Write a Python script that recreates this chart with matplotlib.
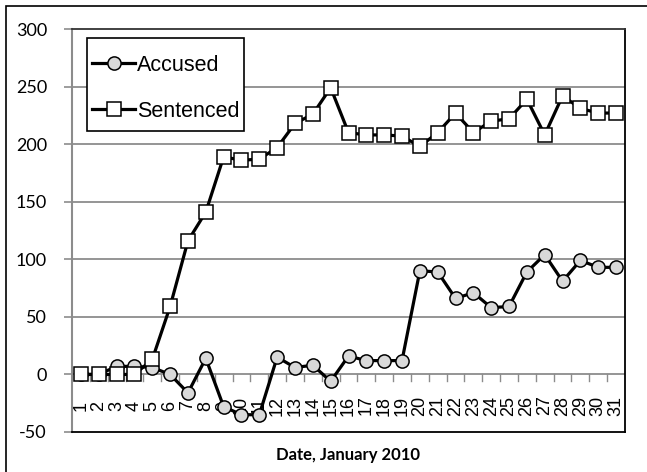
import matplotlib
matplotlib.use("Agg")
import matplotlib.pyplot as plt
from matplotlib.patches import Rectangle

days = list(range(1, 32))
day_labels = [str(d) for d in days]
accused = [0, 0, 7, 7, 6, 0, -16, 14, -28, -35, -35, 15, 6, 8, -6, 16,
           12, 12, 12, 90, 89, 66, 71, 58, 59, 89, 104, 81, 99, 93, 93]
sentenced = [0, 0, 0, 0, 13, 59, 116, 141, 189, 186, 187, 197, 218, 226, 249, 210,
             208, 208, 207, 198, 210, 227, 210, 220, 222, 239, 208, 242, 231, 227, 227]
yticks = [-50, 0, 50, 100, 150, 200, 250, 300]
xlabel = "Date, January 2010"
series_names = ["Accused", "Sentenced"]

W, H = 647, 472
fig = plt.figure(figsize=(W / 100, H / 100), dpi=100)
fig.patch.set_facecolor("white")

# outer chart border
fig.add_artist(Rectangle((6 / W, -0.05), 1.2, 1 - 6 / H + 0.05, transform=fig.transFigure,
                         fill=False, edgecolor="black", linewidth=1.2))

ax = fig.add_axes([72 / W, 1 - 432 / H, (625 - 72) / W, (432 - 29) / H])
ax.set_xlim(0.5, 31.5)
ax.set_ylim(-50, 300)

grid_c = "#8c8c8c"
for y in [50, 100, 150, 200, 250]:
    ax.axhline(y, color=grid_c, linewidth=1.3, zorder=1)
# zero axis line with ticks between categories
ax.axhline(0, color=grid_c, linewidth=1.3, zorder=1)
for b in range(1, 31):
    ax.plot([b + 0.5, b + 0.5], [0, -6], color=grid_c, linewidth=1.0, zorder=1)

l1, = ax.plot(days, accused, color="black", linewidth=2.3, marker="o", markersize=9.5,
              markerfacecolor="#d9d9d9", markeredgecolor="black", markeredgewidth=1.1,
              zorder=3, label=series_names[0])
l2, = ax.plot(days, sentenced, color="black", linewidth=2.3, marker="s", markersize=10.5,
              markerfacecolor="white", markeredgecolor="black", markeredgewidth=1.1,
              zorder=4, label=series_names[1])

ax.set_yticks(yticks)
ax.set_yticklabels([str(v) for v in yticks], fontfamily="Lato", fontsize=13)
ax.tick_params(axis="y", direction="out", length=6, color=grid_c, width=1.2, pad=12)
ax.set_xticks([])

for d, lab in zip(days, day_labels):
    ax.text(d, -27, lab, rotation=90, ha="center", va="center",
            fontfamily="Liberation Sans", fontsize=13, zorder=2)

for s in ["top", "right", "bottom"]:
    ax.spines[s].set_color("black")
    ax.spines[s].set_linewidth(1.3)
ax.spines["top"].set_color("#333333")
ax.spines["left"].set_color(grid_c)
ax.spines["left"].set_linewidth(1.5)

fig.text((72 + 625) / 2 / W, 1 - 455 / H, xlabel, ha="center", va="center",
         fontfamily="Lato", fontweight="bold", fontsize=12)

# legend frame drawn separately (Excel-like padding)
fig.add_artist(Rectangle((87 / W, 1 - 131 / H), (244 - 87) / W, (131 - 38) / H,
                         transform=fig.transFigure, facecolor="white", edgecolor="black",
                         linewidth=1.2, zorder=5))
leg = fig.legend(handles=[l1, l2], loc="upper left", bbox_to_anchor=(92 / W, 1 - 55 / H),
                 prop={"family": "Liberation Sans", "size": 15.5}, frameon=False,
                 handlelength=2.0, handletextpad=0.08, labelspacing=1.15, borderpad=0,
                 borderaxespad=0)
leg.set_zorder(6)

fig.savefig("out.png", dpi=100, facecolor="white")
